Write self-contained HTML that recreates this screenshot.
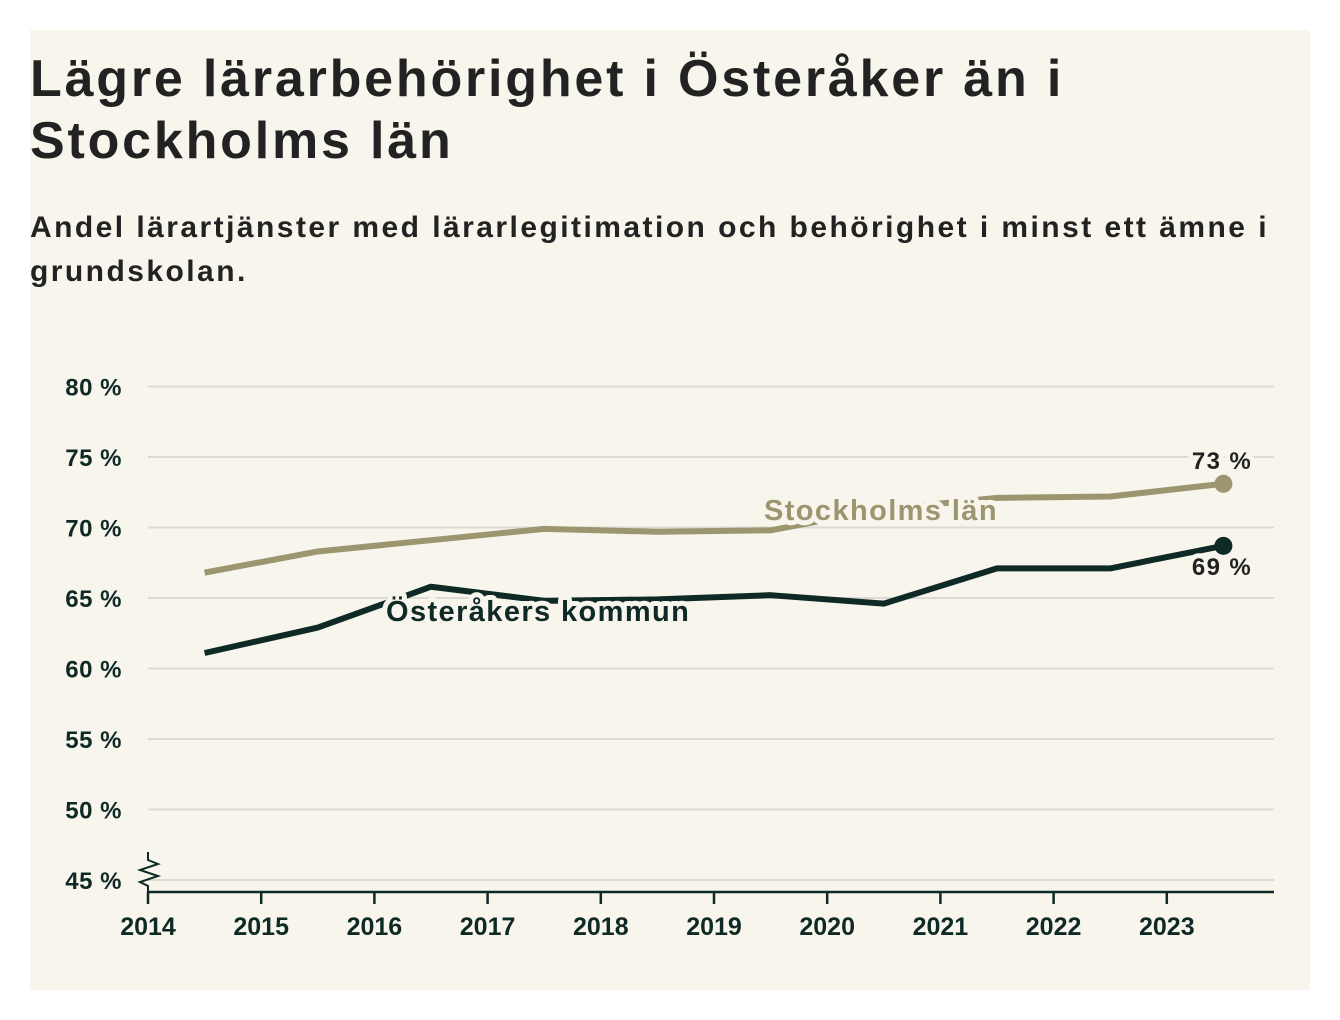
<!DOCTYPE html>
<html><head><meta charset="utf-8"><style>
body{margin:0;background:#fff;width:1340px;height:1020px;overflow:hidden;font-family:"Liberation Sans","DejaVu Sans",sans-serif}
#card{position:absolute;left:30px;top:30px;width:1280px;height:960px;background:#f7f5ec}
h1{position:absolute;left:0;top:18px;margin:0;font-size:52px;line-height:62px;font-weight:700;color:#222;letter-spacing:2.8px;width:1100px}
h2{position:absolute;left:0;top:176px;margin:0;font-size:30px;line-height:44px;font-weight:700;color:#222;width:1270px;letter-spacing:2.45px}
svg{position:absolute;left:0;top:0}
</style></head><body>
<div id="card">
<h1>Lägre lärarbehörighet i Österåker än i<br>Stockholms län</h1>
<h2>Andel lärartjänster med lärarlegitimation och behörighet i minst ett ämne i grundskolan.</h2>
</div>
<svg id="chart" width="1340" height="1020"></svg>
<script>
const years=[2014,2015,2016,2017,2018,2019,2020,2021,2022,2023];
const yTicks=[45,50,55,60,65,70,75,80];
const stockholm=[66.8,68.3,69.1,69.9,69.7,69.8,71.3,72.1,72.2,73.1];
const osteraker=[61.1,62.9,65.8,64.8,64.9,65.2,64.6,67.1,67.1,68.7];
const NS='http://www.w3.org/2000/svg';
const svg=document.getElementById('chart');
const x=v=>148+(v-2014)*113.2;
const y=v=>880-(v-45)*14.1;
function mk(t,a,p){const e=document.createElementNS(NS,t);for(const k in a)e.setAttribute(k,a[k]);(p||svg).appendChild(e);return e;}
yTicks.forEach(t=>{
  const g=mk('line',{x1:148,x2:1274,y1:y(t),y2:y(t),stroke:'#dcdad3','stroke-width':2});
  
  
  const l=mk('text',{x:122,y:y(t)+9,'text-anchor':'end','font-size':24,'font-weight':700,fill:'#0f2a26','letter-spacing':0.5});
  l.textContent=t+' %';
  
  
});
const ax=mk('line',{x1:148,x2:1274,y1:892,y2:892,stroke:'#0f2a26','stroke-width':2.5});


const br=mk('polyline',{points:'148,852 148,860 158,864 140,870 158,876 140,882 148,886 148,892',fill:'none',stroke:'#0f2a26','stroke-width':2});


years.forEach(yr=>{
  const t=mk('line',{x1:x(yr),x2:x(yr),y1:892,y2:904,stroke:'#0f2a26','stroke-width':2.5});
  
  
  const l=mk('text',{x:x(yr),y:935,'text-anchor':'middle','font-size':25,'font-weight':700,fill:'#0f2a26'});
  l.textContent=yr;
  
  
});
function series(vals,color,name){
  const pts=vals.map((v,i)=>x(years[i]+0.5)+','+y(v)).join(' ');
  const p=mk('polyline',{points:pts,fill:'none',stroke:color,'stroke-width':6,'stroke-linejoin':'round'});
  
  
  const n=vals.length-1;
  const c=mk('circle',{cx:x(years[n]+0.5),cy:y(vals[n]),r:9,fill:color});
  
  
}
series(stockholm,'#9c9670','stockholm');
series(osteraker,'#0f2a26','osteraker');
function label(txt,xx,yy,color,name,size,anchor){
  const t=mk('text',{x:xx,y:yy,'font-size':size,'font-weight':700,fill:color,stroke:'#f7f5ec','stroke-width':10,'paint-order':'stroke','stroke-linejoin':'round','letter-spacing':1.4,'text-anchor':anchor||'start'});
  t.textContent=txt;
  
  
}
label('Stockholms län',764,520,'#9c9670','stockholm-label',29);
label('Österåkers kommun',386,621,'#0f2a26','osteraker-label',29);
label(Math.round(stockholm[9])+' %',1222,469,'#222','stockholm-end-value',24,'middle');
label(Math.round(osteraker[9])+' %',1222,575,'#222','osteraker-end-value',24,'middle');
</script>
</body></html>
